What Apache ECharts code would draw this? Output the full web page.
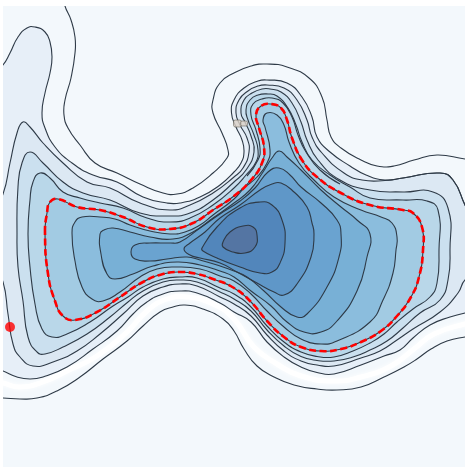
<!DOCTYPE html>
<html>
<head>
<meta charset="utf-8">
<style>
html, body { margin: 0; padding: 0; background: #fff; }
#box { width: 468px; height: 469px; }
</style>
<script src="https://cdn.jsdelivr.net/npm/echarts@6/dist/echarts.min.js"></script>
</head>
<body>
<div id="box"></div>
<script>
// contour traces, [x, y]
var aTop = [[65,0],[65,6],[71,20],[75,37],[75,53],[71,78],[65,100],[64,115],[68,128],[80,145],[95,163],[117,173],[140,184],[163,193],[177,194],[193,188],[213,173],[227,158],[228,150],[222,133],[213,113],[213,100],[220,83],[234,73],[251,66],[267,64],[287,67],[309,78],[322,97],[327,120],[331,137],[341,148],[361,160],[377,166],[394,166],[414,160],[437,155],[465,159],[475,160]];
var aBottom = [[-5,398],[3,398],[20,399],[37,398],[57,391],[80,377],[103,359],[127,341],[143,326],[160,312],[173,307],[185,305],[203,309],[223,319],[234,331],[244,349],[257,366],[274,377],[294,385],[317,389],[337,390],[361,387],[384,377],[404,367],[417,359],[431,349],[447,341],[465,337],[475,336]];
var bTop = [[-5,72],[3,65],[10,53],[18,37],[27,28],[35,27],[45,32],[50,42],[52,57],[50,73],[45,93],[42,113],[45,128],[55,147],[72,163],[93,175],[117,182],[143,197],[167,203],[180,203],[200,197],[220,185],[234,172],[241,163],[244,152],[242,140],[236,127],[231.5,113],[234,100],[244,88],[258,81],[267,80],[287,83],[302,97],[312,117],[317,137],[330,152],[350,166],[366,175],[385,180],[403,178],[440,173],[453,180],[465,205],[475,225]];
var bBottom = [[-5,368],[3,371],[17,377],[30,379],[43,377],[67,367],[93,349],[117,331],[133,314],[147,302],[163,294],[180,291],[197,293],[220,303],[234,312],[251,322],[267,342],[284,357],[301,367],[317,372.5],[334,374],[361,365],[384,356],[400,350],[413,338],[430,325],[450,317],[465,313],[475,312]];
var cTop = [[-5,205],[3,194],[10,163],[17,133],[23,122],[30,127],[43,143],[63,163],[87,182],[110,188],[140,203],[170,210],[190,205],[213,193],[234,177],[243,168],[249,152],[247,138],[240,125],[236,113],[239,100],[248,91],[258,86],[267,85],[284,88],[297,100],[307,120],[312,137],[322,153],[344,173],[362,180],[385,180.5],[403,178],[440,173],[453,180],[465,205],[475,225]];
var cBottom = [[-5,270],[3,282],[8,314],[13,344],[20,357],[33,366],[53,362],[77,351],[100,334],[123,314],[143,296],[163,287],[180,284],[197,286],[220,297],[234,304],[251,316],[267,335],[284,351],[301,361],[317,365],[334,366],[361,358],[380,351],[397,340],[413,329],[440,312],[458,293],[465,280],[475,275]];
var dLine = [[30,152],[43,163],[63,182],[83,193],[110,200],[140,213],[170,216],[190,213],[213,200],[234,182],[246,170],[254,152],[251,136],[245,122],[241,113],[244,100],[252,93],[262,89],[270,89],[281,92],[292,103],[301,122],[307,140],[318,160],[340,180],[370,190],[403,192],[433,192],[448,208],[450,250],[448,280],[440,300],[420,313],[403,328],[387,341],[370,350],[353,357],[334,361],[317,360.5],[301,356.5],[284,346],[267,330],[251,311],[234,299],[220,292],[197,282],[180,280],[163,282],[143,291],[128,302],[110,317],[87,334],[63,347],[45,354],[37,352],[28,337],[23,301],[18,267],[17,233],[18,187],[22,163]];
var eLine = [[40,173],[50,178],[63,192],[80,198],[100,203],[123,208],[147,218],[170,222],[190,218],[213,205],[234,188],[246,175],[256,162],[258,150],[254,135],[248,120],[246,110],[250,100],[258,95],[268,94],[277,96],[288,108],[296,125],[302,142],[312,160],[330,175],[350,187],[370,198],[403,200],[427,201],[438,210],[439,250],[437,283],[430,297],[413,309],[397,322],[384,334],[370,343],[353,351],[334,357],[317,356.5],[301,352],[284,342],[267,326],[251,307],[234,294],[220,288],[197,278],[180,277],[163,279],[143,287],[128,297],[113,306],[90,322],[67,334],[52,337],[42,329],[35,304],[30,267],[28,234],[30,200],[33,182]];
var fLine = [[247,176],[258,160],[260,148],[256,130],[251,115],[253,104],[262,99],[272,98],[283,103],[292,117],[298,135],[306,152],[320,170],[340,184]];
var redLine = [[45,233],[47,213],[50,202],[58,199],[77,207],[100,210],[123,217],[147,227],[170,229],[193,223],[213,210],[234,196],[251,180],[262,163],[264,147],[259,128],[256,115],[261,106],[271,104],[281,108],[287,120],[292,138],[302,160],[317,177],[341,193],[370,205],[403,210],[413,213],[422,227],[423,250],[419,277],[411,297],[397,316],[381,331],[361,342],[341,349],[321,351],[301,347],[284,337],[267,321],[251,302],[234,288],[213,279],[197,274],[180,272],[163,274],[143,282],[120,297],[97,312],[75,320],[63,316],[55,301],[48,274]];
var line6 = [[72,233],[75,222],[82,217],[100,217],[115,219],[130,225],[150,231],[170,234],[185,232],[200,225],[213,215],[234,199],[244,188],[257,177],[267,163],[270,150],[265,127],[263,120],[267,113],[277,115],[284,125],[289,142],[299,163],[314,180],[334,197],[361,210],[381,217],[392,223],[397,237],[396,250],[393,273],[383,300],[370,322],[337,341],[321,344],[301,339],[284,327],[267,311],[251,294],[234,281],[220,276],[200,269],[177,267],[157,269],[140,277],[120,292],[103,301],[92,299],[82,287],[75,261]];
var line7 = [[100,234],[104,230],[113,228],[130,232],[150,237],[173,239],[193,232],[213,218],[234,203],[250,190],[263,172],[272,158],[279,151],[287,157],[301,170],[321,190],[341,207],[357,220],[370,234],[367,257],[357,291],[337,321],[321,332],[304,332],[287,322],[271,306],[251,291],[234,277],[220,271],[200,265],[177,262],[153,266],[133,274],[115,279],[107,274],[101,254]];
var line8 = [[131,252],[135,245],[150,243],[170,243],[180,242],[200,228],[220,214],[240,201],[255,188],[268,172],[279,168],[290,175],[301,187],[321,203],[337,220],[341,234],[339,257],[327,287],[307,314],[297,317],[281,307],[264,291],[247,277],[234,271],[217,265],[200,260],[187,257],[167,259],[150,261],[135,259]];
var line9 = [[184,249],[190,243],[205,232],[220,218],[240,205],[260,190],[272,184],[281,183],[294,192],[307,207],[312,223],[314,234],[311,257],[297,284],[284,295],[274,292],[257,283],[237,272],[220,263],[200,258],[190,255]];
var line10 = [[202,248],[217,227],[240,208],[260,202],[272,205],[282,220],[285,243],[280,263],[272,272],[260,273],[240,267],[217,258],[203,251]];
var line11 = [[223,242],[230,232],[243,226],[253,227],[257,235],[255,247],[245,253],[233,252],[223,247]];
var whiteStreak = [[-5,381],[3,383],[20,387],[43,382],[67,371],[97,356],[127,332],[147,311],[167,299],[187,297],[213,304],[234,319],[254,347],[277,364],[301,376],[334,381],[361,377],[391,366],[414,349],[434,334],[465,324],[475,323]];
var redDot = [[10,327]];
var probe = [[237.5,123.5],[244,123.5]];

var bandColors = ['#f3f8fc', '#e7eff8', '#dce8f3', '#cbe0ef', '#b9d7e9', '#a2cbe3', '#8bbddd', '#78b0d6', '#6aa3d0', '#5f97c8', '#5286bb', '#5475a3'];
var ink = '#2e3a47';

function rev(a) { return a.slice().reverse(); }

function shape(points, kind, style) {
    return {
        type: 'custom',
        coordinateSystem: 'cartesian2d',
        clip: true,
        silent: true,
        animation: false,
        data: points,
        renderItem: function (params, api) {
            if (params.dataIndex !== 0) return;
            return {
                type: kind,
                shape: { points: points.map(function (p) { return api.coord(p); }), smooth: 0.5 },
                style: style
            };
        }
    };
}
function band(points, color) {
    return shape(points, 'polygon', { fill: color, stroke: null });
}
function trace(points, closed) {
    return shape(points, closed ? 'polygon' : 'polyline', { fill: null, stroke: ink, lineWidth: 1.1 });
}

var closedFills = [dLine, eLine, redLine, line6, line7, line8, line9, line10, line11];
var series = [];
series.push(band(aTop.concat(rev(aBottom), [[-5, 0]]), bandColors[0]));
series.push(shape(whiteStreak, 'polyline', { fill: null, stroke: '#fff', lineWidth: 5, shadowBlur: 5, shadowColor: '#fff' }));
series.push(band(bTop.concat(rev(bBottom)), bandColors[1]));
series.push(band(cTop.concat(rev(cBottom)), bandColors[2]));
closedFills.forEach(function (pts, i) {
    series.push(band(pts, bandColors[i + 3]));
});
[aTop, aBottom, bTop, bBottom, cTop, cBottom, fLine].forEach(function (pts) {
    series.push(trace(pts, false));
});
closedFills.forEach(function (pts) {
    series.push(trace(pts, true));
});
series.push(shape(redLine, 'polygon', { fill: null, stroke: '#ff0000', lineWidth: 2.6, lineDash: [7, 3.5] }));
series.push({
    type: 'scatter', data: redDot, symbol: 'circle', symbolSize: 10, silent: true, animation: false,
    itemStyle: { color: '#ff0000' }
});
series.push({
    type: 'scatter', data: probe, symbol: 'roundRect', silent: true, animation: false,
    symbolSize: function (v, p) { return p.dataIndex === 0 ? [8, 7] : [7, 5]; },
    itemStyle: { color: '#d9d0c5', borderColor: '#6f6a60', borderWidth: 0.8 }
});

var myChart = echarts.init(document.getElementById('box'), null, { renderer: 'canvas' });
myChart.setOption({
    animation: false,
    backgroundColor: '#ffffff',
    grid: { left: 3, top: 6, width: 462, height: 461, show: true, backgroundColor: bandColors[0], borderWidth: 0 },
    xAxis: { type: 'value', min: 3, max: 465, show: false },
    yAxis: { type: 'value', min: 6, max: 467, inverse: true, show: false },
    series: series
});
</script>
</body>
</html>
